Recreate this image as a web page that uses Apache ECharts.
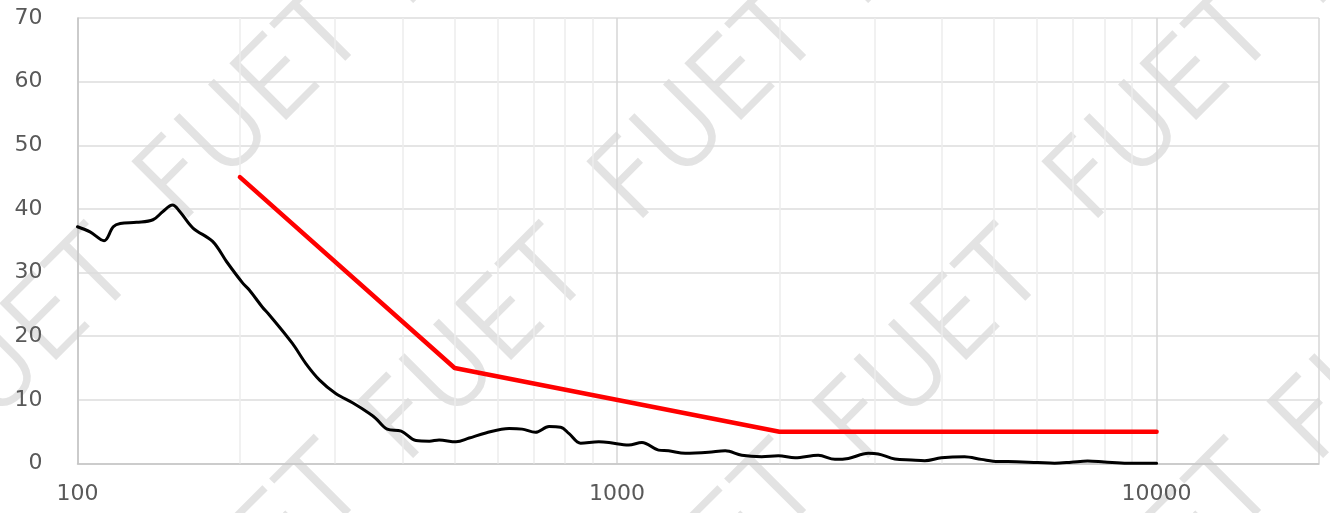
<!DOCTYPE html>
<html>
<head>
<meta charset="utf-8">
<script src="https://cdn.jsdelivr.net/npm/echarts@6/dist/echarts.min.js"></script>
<style>
html,body{margin:0;padding:0;background:#fff;}
#c{width:1330px;height:513px;}
</style>
</head>
<body>
<div id="c"></div>
<script>
// Measured curve (black)
const measFreq = [100,105.5,112,116.5,120,128.7,138,144,150,154.7,163.7,178,189,202.6,208,220,227,250,265,281,301,324,347,357,375,398,424,449,468,503,532,571,631,667,706,748,786,815,856,925,966,1051,1112,1194,1246,1338,1478,1587,1703,1854,1991,2138,2360,2535,2684,2922,3048,3273,3513,3718,3990,4406,4732,5083,5303,6024,6470,6944,7450,8000,8834,10000];
const measVal  = [37.2,36.4,35.0,37.2,37.7,37.9,38.3,39.6,40.6,39.6,37.0,34.9,31.7,28.3,27.3,24.6,23.3,18.9,15.7,13.1,11.0,9.5,7.9,7.1,5.4,5.1,3.6,3.5,3.7,3.4,4.0,4.8,5.5,5.4,4.9,5.8,5.7,4.7,3.2,3.4,3.3,2.9,3.3,2.1,2.0,1.6,1.75,2.0,1.3,1.07,1.2,0.9,1.3,0.65,0.8,1.6,1.5,0.7,0.55,0.45,0.9,1.07,0.65,0.3,0.3,0.15,0.05,0.2,0.4,0.25,0.05,0.05];
// Limit line (red)
const limitFreq = [200,500,2000,10000];
const limitVal  = [45,15,5,5];
// Axis values
const xMin = 100, xMax = 20000;
const yMin = 0, yMax = 70, yStep = 10;
const minorGridFreq = [200,300,400,500,600,700,800,900,2000,3000,4000,5000,6000,7000,8000,9000];
const watermarkText = 'FUET';

const chart = echarts.init(document.getElementById('c'), null, {renderer:'canvas'});

const wmCenters = [
  [25,-105],[480,-105],[935,-105],[1390,-105],
  [255,110],[710,110],[1165,110],
  [25,350],[480,350],[935,350],[1390,350],
  [255,565],[710,565],[1165,565]
];
const graphics = wmCenters.map(p => ({
  type:'text', x:p[0], y:p[1], rotation:Math.PI/4, z:-10, zlevel:0, silent:true,
  style:{text:watermarkText, fontSize:106, fontFamily:'DejaVu Sans', fontWeight:200,
         fill:'#e3e3e3', stroke:'#e3e3e3', lineWidth:3,
         align:'center', verticalAlign:'middle'}
}));

const labelStyle = {color:'#595959', fontSize:22, fontFamily:'DejaVu Sans'};

chart.setOption({
  animation:false,
  backgroundColor:'#ffffff',
  grid:{left:77.5, right:11, top:18, bottom:49.5, containLabel:false},
  graphic:graphics,
  xAxis:{
    type:'log', logBase:10, min:xMin, max:xMax,
    axisLine:{show:true, lineStyle:{color:'#c4c4c4', width:1.5}},
    axisTick:{show:false},
    axisLabel:Object.assign({margin:20, showMaxLabel:false,
      formatter:v => String(Math.round(v))}, labelStyle),
    splitLine:{show:true, lineStyle:{color:'#d6d6d6', width:1.5}}
  },
  yAxis:{
    type:'value', min:yMin, max:yMax, interval:yStep,
    axisLine:{show:true, lineStyle:{color:'#c4c4c4', width:1.5}},
    axisTick:{show:false},
    axisLabel:Object.assign({margin:35}, labelStyle),
    splitLine:{show:true, lineStyle:{color:'#dcdcdc', width:1.5}}
  },
  series:[
    {
      type:'line', name:'minor', data:[], z:0,
      markLine:{silent:true, symbol:'none', label:{show:false},
        lineStyle:{color:'#ececec', width:1.5, type:'solid'},
        data:minorGridFreq.map(f => ({xAxis:f}))}
    },
    {
      type:'line', name:'measured', zlevel:1, z:3,
      data:measFreq.map((f,i) => [f, measVal[i]]),
      showSymbol:false, symbol:'none', smooth:0.35,
      lineStyle:{color:'#000000', width:3, cap:'round', join:'round'}
    },
    {
      type:'line', name:'limit', zlevel:1, z:4,
      data:limitFreq.map((f,i) => [f, limitVal[i]]),
      showSymbol:false, symbol:'none',
      lineStyle:{color:'#ff0000', width:4.5, cap:'round', join:'round'}
    }
  ]
});
</script>
</body>
</html>
